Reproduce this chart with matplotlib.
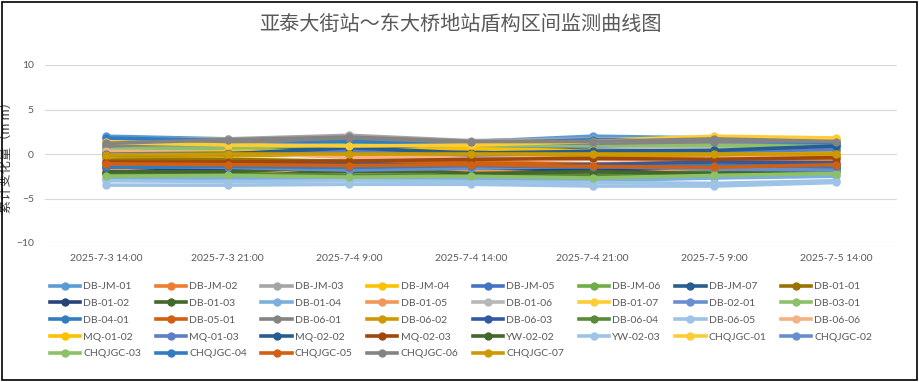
import matplotlib
matplotlib.use("Agg")
import matplotlib.pyplot as plt
from matplotlib.patches import Rectangle
from matplotlib.lines import Line2D

plt.rcParams['font.family'] = ['Lato', 'Noto Sans CJK SC', 'DejaVu Sans']

times = ['2025-7-3 14:00', '2025-7-3 21:00', '2025-7-4 9:00', '2025-7-4 14:00',
         '2025-7-4 21:00', '2025-7-5 9:00', '2025-7-5 14:00']

# DB-JM points
db_jm_names = ['DB-JM-01', 'DB-JM-02', 'DB-JM-03', 'DB-JM-04', 'DB-JM-05', 'DB-JM-06', 'DB-JM-07']
db_jm = [
    [2.0, 1.7, 1.6, 1.4, 2.0, 1.8, 1.5],
    [-0.8, -0.8, -1.2, -0.9, -1.1, -0.9, -0.7],
    [1.6, 1.7, 2.1, 1.5, 1.7, 1.6, 1.6],
    [0.1, 0.5, 0.8, 0.9, 0.5, 0.4, 0.3],
    [0.5, 0.4, 0.6, 0.4, 0.2, 0.9, 0.8],
    [1.0, 0.8, 1.3, 1.0, 1.2, 1.1, 0.9],
    [0.2, 0.3, 0.9, 0.2, 0.5, 0.6, 1.0],
]

# DB points
db_names = ['DB-01-01', 'DB-01-02', 'DB-01-03', 'DB-01-04', 'DB-01-05', 'DB-01-06', 'DB-01-07',
            'DB-02-01', 'DB-03-01', 'DB-04-01', 'DB-05-01', 'DB-06-01', 'DB-06-02', 'DB-06-03',
            'DB-06-04', 'DB-06-05', 'DB-06-06']
db = [
    [-0.5, -0.6, -0.8, -0.5, -0.2, -0.3, -0.2],
    [-1.6, -1.6, -1.7, -1.7, -1.8, -1.6, -1.6],
    [-2.1, -2.1, -2.0, -2.0, -2.3, -1.8, -1.5],
    [-2.8, -2.7, -2.8, -2.8, -3.0, -2.7, -2.5],
    [-1.8, -2.3, -1.3, -1.9, -2.3, -1.8, -2.0],
    [0.6, 0.5, 1.4, 1.2, 0.8, 0.7, 0.6],
    [1.4, 1.2, 1.0, 1.1, 1.5, 2.0, 1.8],
    [1.1, 0.9, 1.2, 0.8, 0.9, 1.3, 1.2],
    [0.7, 0.6, 1.1, 0.9, 1.0, 1.0, 0.8],
    [1.8, 1.5, 1.4, 1.2, 1.6, 1.5, 1.3],
    [-1.0, -1.0, -1.1, -1.0, -1.2, -1.3, -1.1],
    [0.9, 1.3, 1.8, 1.3, 1.2, 1.4, 1.5],
    [-0.3, -0.2, -0.1, -0.2, -0.3, -0.2, -0.1],
    [-1.3, -1.3, -1.0, -1.5, -1.2, -0.9, -1.0],
    [-2.3, -2.2, -2.4, -2.3, -2.4, -2.0, -1.9],
    [-3.0, -3.1, -3.0, -3.1, -3.2, -3.3, -3.0],
    [0.3, 0.2, -0.4, -0.3, -0.6, -0.5, -0.2],
]

mq_names = ['MQ-01-02', 'MQ-01-03', 'MQ-02-02', 'MQ-02-03']
mq = [
    [-0.2, 0.3, 0.4, 0.6, 0.3, 0.2, 0.0],
    [0.0, 0.1, 0.3, -0.1, 0.1, 0.3, 0.5],
    [-0.1, 0.0, 0.7, 0.1, 0.3, 0.4, 0.9],
    [-0.9, -0.9, -0.8, -0.6, -0.5, -0.6, -0.4],
]

yw_names = ['YW-02-02', 'YW-02-03']
yw = [
    [-2.0, -2.0, -1.4, -2.2, -2.0, -2.2, -1.6],
    [-3.5, -3.5, -3.4, -3.4, -3.6, -3.6, -3.2],
]

chq_names = ['CHQJGC-01', 'CHQJGC-02', 'CHQJGC-03', 'CHQJGC-04', 'CHQJGC-05', 'CHQJGC-06', 'CHQJGC-07']
chq = [
    [1.3, 1.0, 0.9, 1.0, 1.4, 1.9, 1.7],
    [-1.4, -1.5, -1.8, -1.6, -1.4, -1.7, -1.8],
    [-2.5, -2.4, -2.6, -2.5, -2.7, -2.4, -2.2],
    [-1.5, -1.4, -1.5, -1.3, -1.5, -1.3, -1.4],
    [-1.1, -1.2, -1.3, -1.2, -1.4, -1.5, -1.2],
    [1.2, 1.6, 1.9, 1.4, 1.4, 1.7, 1.4],
    [-0.1, 0.0, 0.0, 0.0, 0.0, 0.0, 0.0],
]

colors = ['#5B9BD5', '#ED7D31', '#A5A5A5', '#FFC000', '#4472C4', '#70AD47', '#255E91',
          '#997300', '#264478', '#43682B', '#7CAFDD', '#F1975A', '#B7B7B7', '#FFCD33',
          '#698ED0', '#8CC168', '#327DC2', '#D26012', '#848484', '#CC9A00', '#335AA1',
          '#5A8A39', '#9DC3E6', '#F4B183', '#FFC000', '#5B7FC9', '#255E91', '#9E480E',
          '#43682B', '#9DC3E6', '#FFCD33', '#698ED0', '#8CC168', '#327DC2', '#D26012',
          '#848484', '#CC9A00']

names = db_jm_names + db_names + mq_names + yw_names + chq_names
series = db_jm + db + mq + yw + chq

fig = plt.figure(figsize=(9.2, 3.82), dpi=100)
ax = fig.add_axes([45 / 920, 139 / 382, 852 / 920, 178 / 382])

x = range(len(times))
handles = []
for name, vals, c in zip(names, series, colors):
    h, = ax.plot(x, vals, color=c, lw=2.6, marker='o', markersize=5, label=name)
    handles.append(h)

ax.set_xlim(-0.5, len(times) - 0.5)
ax.set_ylim(-10, 10)
ax.set_yticks([-10, -5, 0, 5, 10])
ax.set_xticks(list(x))
ax.set_xticklabels(times)
ax.tick_params(length=0, labelsize=7.5, labelcolor='#595959')
ax.tick_params(axis='x', pad=8)
ax.tick_params(axis='y', pad=8)
ax.grid(axis='y', color='#D9D9D9', lw=0.8)
ax.set_axisbelow(True)
for s in ax.spines.values():
    s.set_visible(False)

ax.set_ylabel('累计变化量（m m）', fontsize=9.5, color='#404040')
ax.yaxis.set_label_coords(-33 / 852, 0.5)

fig.text(0.5, 0.935, '亚泰大街站～东大桥地站盾构区间监测曲线图', ha='center', va='center',
         fontsize=14.5, color='#595959', family=['Noto Sans CJK SC'], fontweight='light')

# legend fills row by row like Excel: pad to 5x8 and reorder column-major
ncol, nrow = 8, 5
blank = Line2D([], [], color='none')
slots = handles + [blank] * (ncol * nrow - len(handles))
labels = names + [''] * (ncol * nrow - len(names))
leg_h = [slots[r * ncol + c] for c in range(ncol) for r in range(nrow)]
leg_l = [labels[r * ncol + c] for c in range(ncol) for r in range(nrow)]
fig.legend(leg_h, leg_l, loc='upper left', bbox_to_anchor=(50 / 920, 1 - 282 / 382), ncol=ncol,
           frameon=False, fontsize=7.5, handlelength=2.9, handletextpad=0.3, columnspacing=1.4,
           labelspacing=0.72, labelcolor='#595959', borderaxespad=0, borderpad=0)

fig.add_artist(Rectangle((0.002, 0.004), 0.995, 0.992, transform=fig.transFigure,
                         fill=False, edgecolor='black', lw=1.2))

fig.savefig('out.png', dpi=100)
